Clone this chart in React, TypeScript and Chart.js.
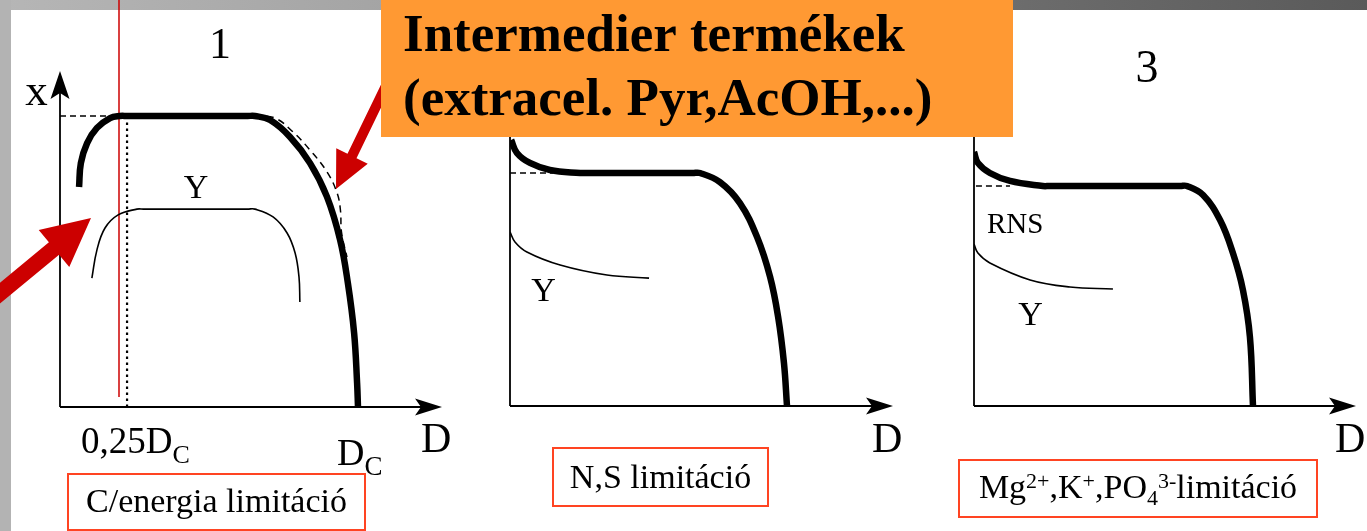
import React, { useEffect, useRef } from "react";
import { Chart, registerables } from "chart.js";

Chart.register(...registerables);

const W = 1367;
const H = 531;
const SERIF = '"Liberation Serif", "Times New Roman", "DejaVu Serif", serif';

// ---------- DATA (D in units of D_C, concentrations relative to the plateau) ----------
// Panel 1 – C/energia limitáció
const P1_X_D = [0.064, 0.070, 0.091, 0.124, 0.168, 0.201, 0.225, 0.630, 0.654, 0.705, 0.772, 0.839, 0.896, 0.940, 0.966, 0.987, 0.997, 1.0];
const P1_X_V = [0.756, 0.838, 0.907, 0.959, 0.993, 1.0, 1.0, 1.0, 1.0, 0.986, 0.928, 0.838, 0.722, 0.574, 0.426, 0.254, 0.082, 0];
const P1_INT_D = [0.654, 0.721, 0.782, 0.839, 0.896, 0.930, 0.941, 0.945, 0.963];
const P1_INT_V = [1.0, 0.993, 0.945, 0.883, 0.808, 0.735, 0.677, 0.598, 0.515];
const P1_Y_D = [0.107, 0.124, 0.151, 0.195, 0.258, 0.280, 0.630, 0.654, 0.715, 0.762, 0.789, 0.802, 0.805];
const P1_Y_V = [0.443, 0.540, 0.615, 0.660, 0.680, 0.680, 0.680, 0.680, 0.653, 0.598, 0.529, 0.447, 0.361];
const P1_MARK_D = [0, 0.201]; // dashed plateau marker
const P1_QUARTER_D = 0.225; // "0,25 D_C" dotted marker
const P1_RED_D = 0.198;
const P1_RED_V = [0.034, 1.399];

// Panel 2 – N,S limitáció
const P2_X_D = [0.004, 0.025, 0.072, 0.144, 0.253, 0.280, 0.660, 0.686, 0.758, 0.830, 0.892, 0.939, 0.968, 0.989, 1.0];
const P2_X_V = [1.142, 1.086, 1.043, 1.013, 1.0, 1.0, 1.0, 1.0, 0.961, 0.871, 0.725, 0.554, 0.382, 0.185, 0];
const P2_Y_D = [0.0, 0.018, 0.061, 0.181, 0.350, 0.502];
const P2_Y_V = [0.747, 0.704, 0.661, 0.605, 0.562, 0.549];
const P2_MARK_D = [0, 0.155];

// Panel 3 – Mg2+, K+, PO4 3- limitáció
const P3_X_D = [0.0, 0.014, 0.057, 0.129, 0.247, 0.270, 0.740, 0.763, 0.821, 0.882, 0.928, 0.964, 0.989, 1.0];
const P3_X_V = [1.155, 1.105, 1.059, 1.023, 1.0, 1.0, 1.0, 1.0, 0.959, 0.845, 0.695, 0.527, 0.314, 0];
const P3_Y_D = [0.0, 0.014, 0.057, 0.201, 0.344, 0.498];
const P3_Y_V = [0.736, 0.695, 0.650, 0.573, 0.541, 0.532];
const P3_MARK_D = [0.007, 0.129];

// ---------- LAYOUT ----------
const PANEL_BOX = [
  { left: 60, top: 71, right: 442, bottom: 407, dMax: 1.2819, vMax: 1.1546 },
  { left: 510, top: 71, right: 893, bottom: 406, dMax: 1.3827, vMax: 1.4378 },
  { left: 974, top: 71, right: 1356, bottom: 406, dMax: 1.3692, vMax: 1.5227 },
];

type Seg = { t: string; size: number; dy: number; bold?: boolean };
type Label = { segs: Seg[]; x: number; y: number; align: "left" | "center" };

const s = (t: string, size: number, dy = 0, bold = false): Seg => ({ t, size, dy, bold });

const PANEL_LABELS: Label[][] = [
  [
    { segs: [s("1", 44)], x: 220, y: 58, align: "center" },
    { segs: [s("x", 45)], x: 36.5, y: 105, align: "center" },
    { segs: [s("D", 42)], x: 421, y: 452, align: "left" },
    { segs: [s("Y", 34)], x: 196, y: 198, align: "center" },
    { segs: [s("0,25D", 37), s("C", 26, 10)], x: 81, y: 453, align: "left" },
    { segs: [s("D", 38), s("C", 27, 10)], x: 337, y: 465, align: "left" },
  ],
  [
    { segs: [s("D", 42)], x: 872, y: 452, align: "left" },
    { segs: [s("Y", 34)], x: 543.5, y: 301, align: "center" },
  ],
  [
    { segs: [s("3", 46)], x: 1147, y: 82, align: "center" },
    { segs: [s("D", 42)], x: 1335, y: 452, align: "left" },
    { segs: [s("RNS", 29)], x: 987, y: 233, align: "left" },
    { segs: [s("Y", 34)], x: 1030.5, y: 325, align: "center" },
  ],
];

const LABEL_BOXES = [
  { x: 68, y: 474, w: 297, h: 56, base: 512, segs: [s("C/energia limitáció", 34)] },
  { x: 553, y: 448, w: 215, h: 58, base: 488, segs: [s("N,S limitáció", 34)] },
  {
    x: 959, y: 460, w: 358, h: 57, base: 498,
    segs: [s("Mg", 34), s("2+", 22, -10), s(",K", 34), s("+", 22, -10), s(",PO", 34), s("4", 22, 7), s("3-", 22, -10), s("limitáció", 34)],
  },
];

const ARROWS = [
  { tip: [91, 218], base: [54, 248.5], len: 150, shaft: 16, hw: 24 },
  { tip: [336, 189], base: [352, 156], len: 150, shaft: 10, hw: 17.5 },
];

const ORANGE = { x: 381, y: 0, w: 632, h: 137 };
const ORANGE_LINES = [
  { t: "Intermedier termékek", x: 403, y: 51 },
  { t: "(extracel. Pyr,AcOH,...)", x: 403, y: 115 },
];

// ---------- DRAW HELPERS ----------
const fontOf = (size: number, bold?: boolean) => `${bold ? "bold " : ""}${size}px ${SERIF}`;

function drawSegs(ctx: CanvasRenderingContext2D, segs: Seg[], x: number, y: number, align: "left" | "center") {
  ctx.save();
  ctx.textBaseline = "alphabetic";
  ctx.textAlign = "left";
  ctx.fillStyle = "#000";
  let total = 0;
  for (const g of segs) {
    ctx.font = fontOf(g.size, g.bold);
    total += ctx.measureText(g.t).width;
  }
  let cx = align === "center" ? x - total / 2 : x;
  for (const g of segs) {
    ctx.font = fontOf(g.size, g.bold);
    ctx.fillText(g.t, cx, y + g.dy);
    cx += ctx.measureText(g.t).width;
  }
  ctx.restore();
}

function drawAxes(chart: any) {
  const { ctx, chartArea } = chart;
  const { left, right, top, bottom } = chartArea;
  ctx.save();
  ctx.strokeStyle = "#000";
  ctx.fillStyle = "#000";
  ctx.lineWidth = 1.8;
  ctx.beginPath();
  ctx.moveTo(left, bottom);
  ctx.lineTo(right - 20, bottom);
  ctx.moveTo(left, bottom);
  ctx.lineTo(left, top + 20);
  ctx.stroke();
  ctx.beginPath();
  ctx.moveTo(right, bottom);
  ctx.lineTo(right - 27, bottom - 8.5);
  ctx.lineTo(right - 21, bottom);
  ctx.lineTo(right - 27, bottom + 8.5);
  ctx.closePath();
  ctx.fill();
  ctx.beginPath();
  ctx.moveTo(left, top);
  ctx.lineTo(left - 9.5, top + 28);
  ctx.lineTo(left, top + 22);
  ctx.lineTo(left + 9.5, top + 28);
  ctx.closePath();
  ctx.fill();
  ctx.restore();
}

function drawArrow(ctx: CanvasRenderingContext2D, a: (typeof ARROWS)[number]) {
  const [tx, ty] = a.tip;
  const [bx, by] = a.base;
  const L = Math.hypot(tx - bx, ty - by);
  const ux = (tx - bx) / L;
  const uy = (ty - by) / L;
  const nx = -uy;
  const ny = ux;
  const tailX = tx - ux * a.len;
  const tailY = ty - uy * a.len;
  ctx.save();
  ctx.fillStyle = "#cc0000";
  ctx.beginPath();
  ctx.moveTo(tailX + nx * a.shaft / 2, tailY + ny * a.shaft / 2);
  ctx.lineTo(bx + nx * a.shaft / 2, by + ny * a.shaft / 2);
  ctx.lineTo(bx + nx * a.hw, by + ny * a.hw);
  ctx.lineTo(tx, ty);
  ctx.lineTo(bx - nx * a.hw, by - ny * a.hw);
  ctx.lineTo(bx - nx * a.shaft / 2, by - ny * a.shaft / 2);
  ctx.lineTo(tailX - nx * a.shaft / 2, tailY - ny * a.shaft / 2);
  ctx.closePath();
  ctx.fill();
  ctx.restore();
}

function drawFrame(ctx: CanvasRenderingContext2D) {
  ctx.save();
  ctx.fillStyle = "#fff";
  ctx.fillRect(0, 0, W, H);
  const g = ctx.createLinearGradient(0, 0, W, 0);
  g.addColorStop(0, "#b6b6b6");
  g.addColorStop(0.3, "#a3a3a3");
  g.addColorStop(0.75, "#6c6c6c");
  g.addColorStop(1, "#5a5a5a");
  ctx.fillStyle = g;
  ctx.fillRect(0, 0, W, 10);
  ctx.fillStyle = "#b3b3b3";
  ctx.fillRect(0, 0, 11, H);
  ctx.restore();
}

function drawLabelBox(ctx: CanvasRenderingContext2D, b: (typeof LABEL_BOXES)[number]) {
  ctx.save();
  ctx.strokeStyle = "#ff4422";
  ctx.lineWidth = 2;
  ctx.strokeRect(b.x, b.y, b.w, b.h);
  ctx.restore();
  drawSegs(ctx, b.segs, b.x + b.w / 2, b.base, "center");
}

function drawOrange(ctx: CanvasRenderingContext2D) {
  ctx.save();
  ctx.fillStyle = "#ff9933";
  ctx.fillRect(ORANGE.x, ORANGE.y, ORANGE.w, ORANGE.h);
  ctx.restore();
  for (const l of ORANGE_LINES) drawSegs(ctx, [s(l.t, 53, 0, true)], l.x, l.y, "left");
}

// ---------- DATASETS ----------
const pts = (ds: number[], vs: number[]) => ds.map((d, i) => ({ x: d, y: vs[i] }));

const curve = (ds: number[], vs: number[], width: number, extra: any = {}) => ({
  data: pts(ds, vs),
  showLine: true,
  borderColor: "#000",
  borderWidth: width,
  pointRadius: 0,
  fill: false,
  tension: 0.4,
  borderCapStyle: "butt",
  borderJoinStyle: "round",
  ...extra,
});

const straight = (ds: number[], vs: number[], width: number, extra: any = {}) => ({
  data: pts(ds, vs),
  showLine: true,
  borderColor: "#000",
  borderWidth: width,
  pointRadius: 0,
  fill: false,
  tension: 0,
  borderCapStyle: "butt",
  ...extra,
});

function panelDatasets(i: number) {
  if (i === 0) {
    return [
      straight(P1_MARK_D, [1, 1], 1.6, { borderDash: [6, 4] }),
      straight([P1_QUARTER_D, P1_QUARTER_D], [0, 1], 2.2, { borderDash: [2.5, 3.5] }),
      curve(P1_Y_D, P1_Y_V, 1.6),
      curve(P1_INT_D, P1_INT_V, 1.5, { borderDash: [7, 5] }),
      curve(P1_X_D, P1_X_V, 6.5),
      straight([P1_RED_D, P1_RED_D], P1_RED_V, 1.5, { borderColor: "#cc0000", clip: false }),
    ];
  }
  if (i === 1) {
    return [
      straight(P2_MARK_D, [1, 1], 1.6, { borderDash: [6, 4] }),
      curve(P2_Y_D, P2_Y_V, 1.6),
      curve(P2_X_D, P2_X_V, 6.5),
    ];
  }
  return [
    straight(P3_MARK_D, [1, 1], 1.6, { borderDash: [6, 4] }),
    curve(P3_Y_D, P3_Y_V, 1.6),
    curve(P3_X_D, P3_X_V, 6.5),
  ];
}

function buildConfig(i: number): any {
  const b = PANEL_BOX[i];
  const plugin = {
    id: "panelDeco" + i,
    beforeDraw(chart: any) {
      if (i === 0) drawFrame(chart.ctx);
    },
    beforeDatasetsDraw(chart: any) {
      drawAxes(chart);
    },
    afterDraw(chart: any) {
      const ctx = chart.ctx as CanvasRenderingContext2D;
      for (const l of PANEL_LABELS[i]) drawSegs(ctx, l.segs, l.x, l.y, l.align);
      drawLabelBox(ctx, LABEL_BOXES[i]);
      if (i === 2) {
        for (const a of ARROWS) drawArrow(ctx, a);
        drawOrange(ctx);
      }
    },
  };
  return {
    type: "scatter",
    data: { datasets: panelDatasets(i) },
    options: {
      responsive: false,
      animation: false,
      devicePixelRatio: 1,
      events: [],
      layout: { padding: { left: b.left, top: b.top, right: W - b.right, bottom: H - b.bottom } },
      plugins: { legend: { display: false }, tooltip: { enabled: false }, title: { display: false } },
      scales: {
        x: { type: "linear", display: false, min: 0, max: b.dMax },
        y: { type: "linear", display: false, min: 0, max: b.vMax },
      },
    },
    plugins: [plugin],
  };
}

export default function App() {
  const r1 = useRef<HTMLCanvasElement>(null);
  const r2 = useRef<HTMLCanvasElement>(null);
  const r3 = useRef<HTMLCanvasElement>(null);

  useEffect(() => {
    const refs = [r1, r2, r3];
    const charts = refs.map((r, i) => new Chart(r.current as HTMLCanvasElement, buildConfig(i)));
    return () => charts.forEach((c) => c.destroy());
  }, []);

  const cs: React.CSSProperties = { position: "absolute", left: 0, top: 0, width: W, height: H, display: "block" };
  return (
    <div style={{ position: "fixed", left: 0, top: 0, width: W, height: H, overflow: "hidden", background: "#fff" }}>
      <canvas ref={r1} width={W} height={H} style={cs} />
      <canvas ref={r2} width={W} height={H} style={cs} />
      <canvas ref={r3} width={W} height={H} style={cs} />
    </div>
  );
}
